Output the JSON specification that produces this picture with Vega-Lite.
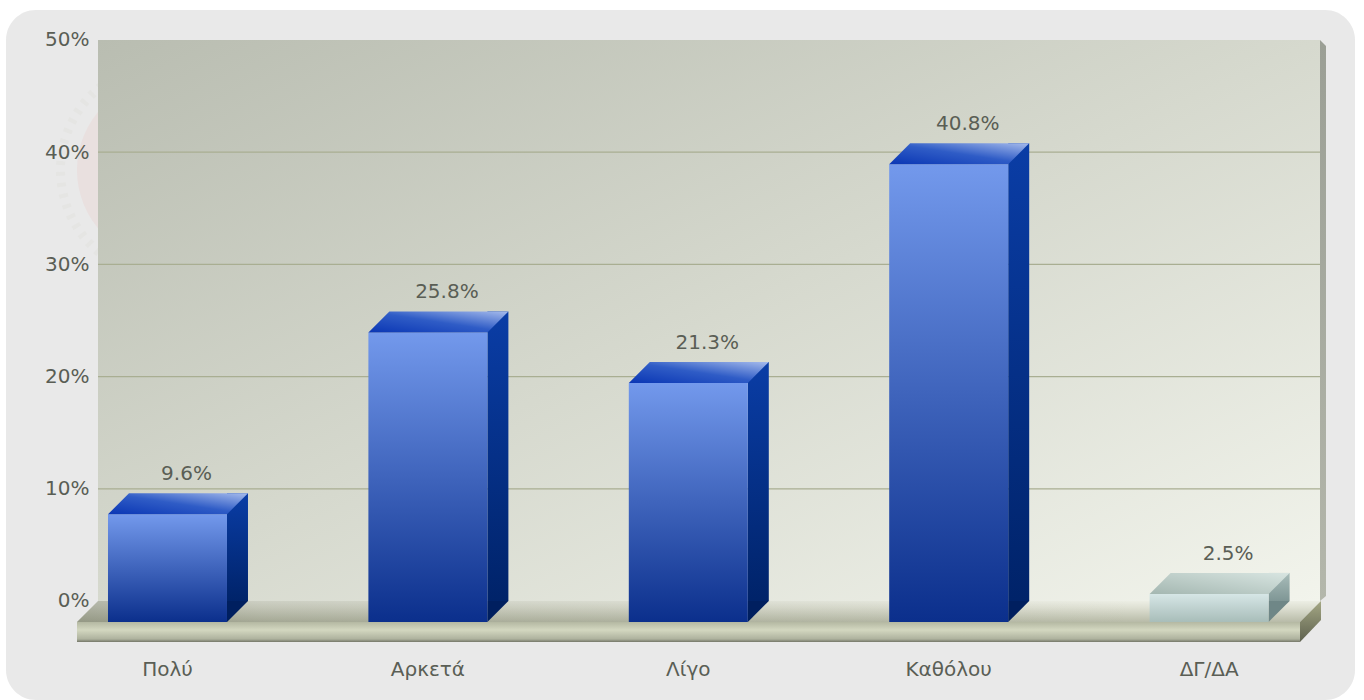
{
"$schema":"https://vega.github.io/schema/vega-lite/v6.json",
"width":1349,"height":690,
"autosize":{"type":"none"},
"padding":{"left":6,"top":10,"right":9,"bottom":0},
"background":"#ffffff",
"view":{"fill":"#e9e9e9","stroke":null,"cornerRadius":30},
"datasets":{
"bars":[
{"category":"Πολύ","value":9.6,"label":"9.6%"},
{"category":"Αρκετά","value":25.8,"label":"25.8%"},
{"category":"Λίγο","value":21.3,"label":"21.3%"},
{"category":"Καθόλου","value":40.8,"label":"40.8%"},
{"category":"ΔΓ/ΔΑ","value":2.5,"label":"2.5%"}],
"base":[{"category":"Λίγο","value":0}],
"grid":[{"category":"Λίγο","value":10},{"category":"Λίγο","value":20},{"category":"Λίγο","value":30},{"category":"Λίγο","value":40}],
"seal":[{"category":"Πολύ","value":38.4}]
},
"encoding":{
"x":{"field":"category","type":"nominal","sort":null,
"scale":{"type":"band","domain":["Πολύ","Αρκετά","Λίγο","Καθόλου","ΔΓ/ΔΑ"],"paddingInner":0,"paddingOuter":0.0902,"align":0.666},
"axis":{"title":null,"orient":"bottom","offset":-41,"domain":false,"ticks":false,"labelPadding":0,"labelBaseline":"top","labelAngle":0,"labelFont":"DejaVu Sans","labelFontSize":20,"labelColor":"#5a5e55","grid":false,"zindex":1}},
"y":{"field":"value","type":"quantitative","stack":null,
"scale":{"domain":[-8.824,52.67],"nice":false,"zero":false},
"axis":{"title":null,"orient":"left","offset":-83,"domain":false,"ticks":false,"labelPadding":0,"values":[0,10,20,30,40,50],"labelExpr":"datum.value+'%'","labelFont":"DejaVu Sans","labelFontSize":20,"labelColor":"#5a5e55","grid":false,"zindex":1}}
},
"layer":[
{"data":{"name":"seal"},"mark":{"type":"point","shape":"circle","filled":false,"size":45800,"opacity":1,"stroke":"#e5e5e3","strokeWidth":9,"strokeDash":[4,7]}},
{"data":{"name":"seal"},"mark":{"type":"point","shape":"circle","filled":true,"size":32761,"opacity":1,"fill":"#e9e0df","stroke":null}},
{"data":{"name":"base"},"mark":{"type":"point","opacity":1,"filled":true,"size":400,"stroke":null,"shape":"M-59.03,-56.1L63.17,-56.1L63.17,0L-59.03,0Z",
 "fill":{"gradient":"linear","x1":0,"y1":0,"x2":1,"y2":1,"stops":[{"offset":0,"color":"#b9bdb1"},{"offset":0.5,"color":"#d6d9ce"},{"offset":1,"color":"#f2f4ec"}]}}},
{"data":{"name":"base"},"mark":{"type":"point","opacity":1,"filled":true,"size":400,"stroke":null,"shape":"M63.17,-56.1L63.77,-55.5L63.77,-0.5L63.17,0Z",
 "fill":{"gradient":"linear","x1":0,"y1":0,"x2":0,"y2":1,"stops":[{"offset":0,"color":"#9b9f95"},{"offset":1,"color":"#b4b7ab"}]}}},
{"data":{"name":"grid"},"mark":{"type":"point","opacity":1,"filled":false,"size":400,"stroke":"#a9ae92","strokeWidth":1.2,"shape":"M-59.03,0L63.17,0"}},
{"data":{"name":"base"},"mark":{"type":"point","opacity":1,"filled":true,"size":400,"stroke":null,"shape":"M-61.13,2.1L-59.03,0L63.27,0L61.17,2.1Z",
 "fill":{"gradient":"linear","x1":0,"y1":0,"x2":0,"y2":1,"stops":[{"offset":0,"color":"#eceee4"},{"offset":0.3,"color":"#dfe1d4"},{"offset":1,"color":"#b8bba8"}]}}},
{"data":{"name":"base"},"mark":{"type":"point","opacity":1,"filled":true,"size":400,"stroke":null,"shape":"M-61.13,2.1L-59.03,0L63.27,0L61.17,2.1Z",
 "fill":{"gradient":"linear","x1":0,"y1":0,"x2":1,"y2":0,"stops":[{"offset":0,"color":"rgba(95,100,80,0.4)"},{"offset":0.15,"color":"rgba(95,100,80,0.22)"},{"offset":0.85,"color":"rgba(95,100,80,0)"},{"offset":1,"color":"rgba(95,100,80,0)"}]}}},
{"data":{"name":"base"},"mark":{"type":"point","opacity":1,"filled":true,"size":400,"stroke":null,"shape":"M-61.13,2.1L61.17,2.1L61.17,4.1L-61.13,4.1Z",
 "fill":{"gradient":"linear","x1":0,"y1":0,"x2":0,"y2":1,"stops":[{"offset":0,"color":"#b4b8a2"},{"offset":0.4,"color":"#d3d7c0"},{"offset":0.85,"color":"#aeb29e"},{"offset":1,"color":"#757869"}]}}},
{"data":{"name":"base"},"mark":{"type":"point","opacity":1,"filled":true,"size":400,"stroke":null,"shape":"M61.17,2.1L63.27,0L63.27,1.9L61.17,4.1Z",
 "fill":{"gradient":"linear","x1":0,"y1":0,"x2":0,"y2":1,"stops":[{"offset":0,"color":"#a5a885"},{"offset":1,"color":"#5e614e"}]}}},
{"data":{"name":"bars"},"mark":{"type":"bar","width":21,"xOffset":70},
 "encoding":{"y2":{"datum":0},"fill":{"condition":{"test":"datum.category==='ΔΓ/ΔΑ'","value":{"gradient":"linear","x1":0,"y1":0,"x2":0,"y2":1,"stops":[{"offset":0,"color":"#a9bdba"},{"offset":1,"color":"#7f9695"}]}},
 "value":{"gradient":"linear","x1":0,"y1":0,"x2":0,"y2":1,"stops":[{"offset":0,"color":"#0a3da6"},{"offset":1,"color":"#002369"}]}}}},
{"data":{"name":"bars"},"mark":{"type":"point","opacity":1,"filled":true,"size":400,"stroke":null,"shape":"M5.95,0L8.05,0L5.95,2.1Z"},
 "encoding":{"y":{"datum":0},"fill":{"condition":{"test":"datum.category==='ΔΓ/ΔΑ'","value":"#6f8787"},"value":"#001f5f"}}},
{"data":{"name":"bars"},"mark":{"type":"bar","width":119,"yOffset":21,"y2Offset":21},
 "encoding":{"y2":{"datum":0},"fill":{"condition":{"test":"datum.category==='ΔΓ/ΔΑ'","value":{"gradient":"linear","x1":0,"y1":0,"x2":0,"y2":1,"stops":[{"offset":0,"color":"#d6e6e6"},{"offset":1,"color":"#a8bdb9"}]}},
 "value":{"gradient":"linear","x1":0,"y1":0,"x2":0,"y2":1,"stops":[{"offset":0,"color":"#7399ec"},{"offset":1,"color":"#0b2f8c"}]}}}},
{"data":{"name":"bars"},"mark":{"type":"point","opacity":1,"filled":true,"size":400,"stroke":null,"shape":"M-5.95,2.1L5.95,2.1L8.05,0L-3.85,0Z"},
 "encoding":{"fill":{"condition":{"test":"datum.category==='ΔΓ/ΔΑ'","value":{"gradient":"linear","x1":0,"y1":1,"x2":1,"y2":0,"stops":[{"offset":0,"color":"#a4b7b1"},{"offset":1,"color":"#d8e5e1"}]}},
 "value":{"gradient":"linear","x1":0,"y1":1,"x2":1,"y2":0,"stops":[{"offset":0,"color":"#0a36b4"},{"offset":0.5,"color":"#2f5cc6"},{"offset":1,"color":"#a6bbec"}]}}}},
{"data":{"name":"bars"},"mark":{"type":"text","dx":19,"dy":-19,"baseline":"middle","align":"center","font":"DejaVu Sans","fontSize":20,"color":"#5a5e55"},
 "encoding":{"text":{"field":"label","type":"nominal"}}}
]
}
